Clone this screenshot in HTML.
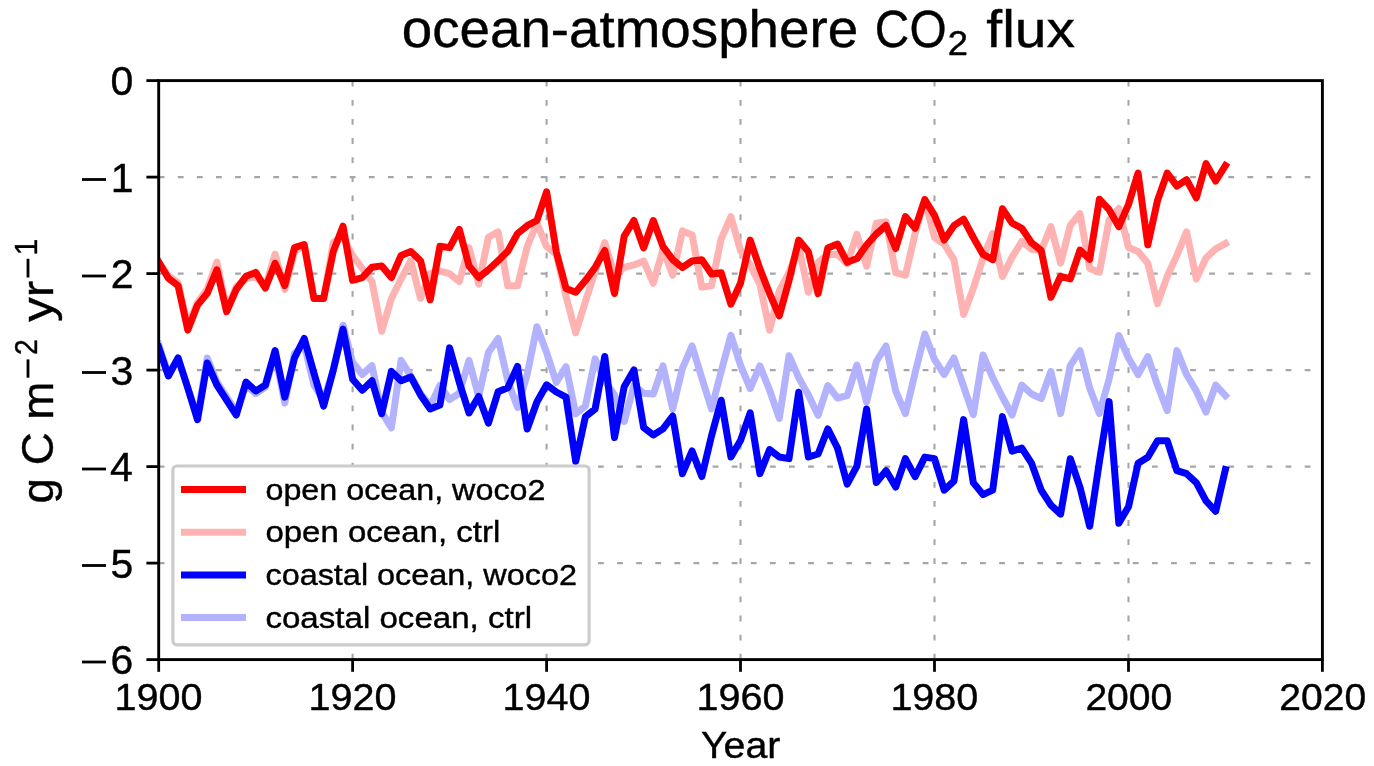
<!DOCTYPE html>
<html><head><meta charset="utf-8"><style>
html,body{margin:0;padding:0;background:#fff;}
svg{display:block;}
svg{will-change:transform;}
text{font-family:"Liberation Sans", sans-serif;fill:#000;stroke:#000;stroke-width:0.4px;}
</style></head><body>
<svg width="1374" height="766" viewBox="0 0 1374 766">
<rect x="0" y="0" width="1374" height="766" fill="#fff"/>
<g stroke="#a6a6a6" stroke-width="2.1" stroke-dasharray="5.8 13.3" fill="none"><line x1="158.7" y1="177.1" x2="1322.4" y2="177.1"/><line x1="158.7" y1="273.6" x2="1322.4" y2="273.6"/><line x1="158.7" y1="370.1" x2="1322.4" y2="370.1"/><line x1="158.7" y1="466.6" x2="1322.4" y2="466.6"/><line x1="158.7" y1="563.1" x2="1322.4" y2="563.1"/><line x1="352.6" y1="659.6" x2="352.6" y2="80.6"/><line x1="546.6" y1="659.6" x2="546.6" y2="80.6"/><line x1="740.5" y1="659.6" x2="740.5" y2="80.6"/><line x1="934.5" y1="659.6" x2="934.5" y2="80.6"/><line x1="1128.5" y1="659.6" x2="1128.5" y2="80.6"/></g>
<defs><clipPath id="ax"><rect x="158.7" y="80.6" width="1163.7" height="579.0"/></clipPath></defs>
<g fill="none" stroke-width="7" stroke-linejoin="round" stroke-linecap="square" clip-path="url(#ax)">
<polyline stroke="#ffb2b2" points="158.7,262.0 168.4,275.8 178.1,282.9 187.8,326.0 197.5,302.5 207.2,289.4 216.9,262.0 226.6,309.0 236.3,286.8 246.0,279.0 255.7,276.3 265.4,286.8 275.1,254.1 284.8,289.4 294.5,251.5 304.2,245.0 313.9,298.5 323.6,298.5 333.3,242.4 343.0,237.2 352.6,255.4 362.3,268.5 372.0,281.6 381.7,331.2 391.4,298.5 401.1,279.0 410.8,260.7 420.5,298.5 430.2,273.7 439.9,271.1 449.6,273.7 459.3,281.6 469.0,247.6 478.7,284.2 488.4,237.2 498.1,231.9 507.8,285.8 517.5,285.8 527.2,246.6 536.9,223.1 546.6,246.6 556.3,254.4 566.0,296.2 575.7,332.8 585.4,301.5 595.1,271.4 604.8,242.7 614.5,275.3 624.2,267.5 633.9,264.9 643.6,261.0 653.3,283.2 663.0,249.2 672.7,275.3 682.4,230.9 692.1,234.9 701.8,287.1 711.5,285.8 721.2,238.8 730.9,216.6 740.5,250.5 750.2,264.9 759.9,284.5 769.6,330.2 779.3,291.0 789.0,272.7 798.7,246.6 808.4,292.3 818.1,262.3 827.8,254.4 837.5,254.4 847.2,263.6 856.9,234.2 866.6,266.2 876.3,223.1 886.0,221.8 895.7,272.7 905.4,275.3 915.1,233.6 924.8,199.6 934.5,237.5 944.2,244.0 953.9,259.7 963.6,314.5 973.3,288.4 983.0,258.4 992.7,233.6 1002.4,276.6 1012.1,257.1 1021.8,241.4 1031.5,249.2 1041.2,250.5 1050.9,226.6 1060.6,263.2 1070.3,225.3 1080.0,213.6 1089.7,268.4 1099.4,272.3 1109.1,220.1 1118.8,208.4 1128.5,247.5 1138.1,251.5 1147.8,263.2 1157.5,303.7 1167.2,276.3 1176.9,255.4 1186.6,231.9 1196.3,278.9 1206.0,258.0 1215.7,248.8 1225.4,243.6"/>
<polyline stroke="#ff0000" points="158.7,262.0 168.4,278.3 178.1,285.7 187.8,330.1 197.5,305.1 207.2,293.3 216.9,269.8 226.6,311.6 236.3,289.4 246.0,276.3 255.7,272.4 265.4,288.1 275.1,263.3 284.8,285.5 294.5,247.6 304.2,244.5 313.9,298.5 323.6,298.5 333.3,251.5 343.0,226.2 352.6,280.3 362.3,277.6 372.0,267.2 381.7,265.9 391.4,277.6 401.1,255.4 410.8,251.5 420.5,260.7 430.2,299.8 439.9,246.3 449.6,247.6 459.3,229.3 469.0,265.9 478.7,277.6 488.4,269.8 498.1,260.7 507.8,251.2 517.5,233.6 527.2,225.7 536.9,220.5 546.6,191.8 556.3,251.8 566.0,288.4 575.7,292.3 585.4,280.6 595.1,267.5 604.8,250.5 614.5,293.6 624.2,236.2 633.9,220.5 643.6,247.9 653.3,220.5 663.0,246.6 672.7,259.7 682.4,267.5 692.1,261.0 701.8,259.7 711.5,274.0 721.2,272.7 730.9,304.1 740.5,283.2 750.2,240.1 759.9,268.8 769.6,293.6 779.3,315.8 789.0,280.6 798.7,240.1 808.4,251.8 818.1,293.6 827.8,247.9 837.5,244.0 847.2,262.3 856.9,258.6 866.6,245.0 876.3,234.0 886.0,225.5 895.7,248.5 905.4,216.6 915.1,228.3 924.8,199.6 934.5,215.3 944.2,240.1 953.9,225.7 963.6,219.2 973.3,237.5 983.0,254.4 992.7,259.7 1002.4,208.8 1012.1,223.1 1021.8,228.3 1031.5,242.7 1041.2,250.5 1050.9,297.2 1060.6,276.3 1070.3,278.9 1080.0,250.1 1089.7,259.3 1099.4,199.2 1109.1,209.7 1118.8,226.6 1128.5,204.4 1138.1,173.1 1147.8,244.9 1157.5,200.5 1167.2,173.1 1176.9,186.2 1186.6,179.6 1196.3,197.9 1206.0,163.6 1215.7,181.0 1225.4,165.5"/>
<polyline stroke="#b2b2ff" points="158.7,344.5 168.4,374.5 178.1,358.0 187.8,388.0 197.5,416.6 207.2,358.0 216.9,382.0 226.6,397.0 236.3,412.0 246.0,385.0 255.7,393.5 265.4,387.0 275.1,353.5 284.8,403.0 294.5,353.5 304.2,344.5 313.9,385.0 323.6,400.0 333.3,370.0 343.0,325.2 352.6,362.3 362.3,374.5 372.0,365.6 381.7,412.1 391.4,427.8 401.1,360.4 410.8,376.1 420.5,393.3 430.2,405.9 439.9,385.5 449.6,399.6 459.3,393.3 469.0,360.4 478.7,396.5 488.4,352.6 498.1,338.5 507.8,380.8 517.5,407.4 527.2,374.5 536.9,326.7 546.6,352.6 556.3,382.4 566.0,366.7 575.7,413.7 585.4,405.9 595.1,358.9 604.8,380.8 614.5,395.0 624.2,421.5 633.9,385.5 643.6,393.3 653.3,394.1 663.0,365.9 672.7,409.0 682.4,368.3 692.1,346.0 701.8,377.7 711.5,409.0 721.2,371.4 730.9,335.4 740.5,365.1 750.2,388.6 759.9,365.9 769.6,390.2 779.3,418.4 789.0,355.7 798.7,377.7 808.4,394.9 818.1,415.3 827.8,385.5 837.5,398.0 847.2,395.7 856.9,365.1 866.6,402.0 876.3,361.5 886.0,346.0 895.7,391.0 905.4,413.6 915.1,373.0 924.8,334.0 934.5,359.5 944.2,374.5 953.9,358.0 963.6,386.5 973.3,414.6 983.0,355.0 992.7,377.5 1002.4,397.0 1012.1,415.0 1021.8,385.0 1031.5,394.0 1041.2,398.5 1050.9,371.5 1060.6,413.6 1070.3,365.6 1080.0,350.6 1089.7,388.1 1099.4,413.6 1109.1,379.1 1118.8,335.5 1128.5,358.1 1138.1,374.6 1147.8,356.6 1157.5,385.1 1167.2,410.6 1176.9,350.6 1186.6,374.6 1196.3,391.1 1206.0,412.1 1215.7,385.1 1225.4,395.5"/>
<polyline stroke="#0000ff" points="158.7,347.5 168.4,376.0 178.1,358.0 187.8,388.0 197.5,419.6 207.2,363.0 216.9,385.0 226.6,400.1 236.3,415.1 246.0,382.0 255.7,391.0 265.4,385.0 275.1,350.5 284.8,397.1 294.5,358.0 304.2,338.5 313.9,373.0 323.6,406.1 333.3,370.0 343.0,329.1 352.6,379.2 362.3,390.2 372.0,380.8 381.7,413.7 391.4,371.4 401.1,380.8 410.8,376.9 420.5,394.9 430.2,409.0 439.9,405.1 449.6,347.9 459.3,382.4 469.0,412.9 478.7,396.5 488.4,423.1 498.1,391.8 507.8,387.8 517.5,366.4 527.2,429.0 536.9,402.0 546.6,384.8 556.3,392.0 566.0,397.1 575.7,461.6 585.4,416.7 595.1,409.0 604.8,356.5 614.5,437.6 624.2,386.7 633.9,369.9 643.6,427.4 653.3,435.0 663.0,428.9 672.7,416.0 682.4,473.6 692.1,451.0 701.8,476.6 711.5,436.0 721.2,400.2 730.9,457.0 740.5,440.6 750.2,412.9 759.9,473.6 769.6,449.6 779.3,457.0 789.0,458.6 798.7,392.2 808.4,457.0 818.1,454.0 827.8,428.9 837.5,448.0 847.2,484.1 856.9,466.1 866.6,409.0 876.3,482.6 886.0,470.6 895.7,487.1 905.4,458.6 915.1,476.6 924.8,457.1 934.5,458.6 944.2,490.1 953.9,481.1 963.6,419.6 973.3,482.6 983.0,494.6 992.7,490.1 1002.4,416.6 1012.1,451.1 1021.8,448.1 1031.5,463.1 1041.2,490.1 1050.9,505.1 1060.6,514.1 1070.3,458.7 1080.0,487.3 1089.7,526.3 1099.4,461.7 1109.1,401.6 1118.8,523.3 1128.5,506.8 1138.1,463.2 1147.8,457.2 1157.5,440.7 1167.2,440.7 1176.9,470.7 1186.6,473.7 1196.3,482.7 1206.0,500.8 1215.7,511.3 1225.4,469.5"/>
</g>
<rect x="158.7" y="80.6" width="1163.7" height="579.0" fill="none" stroke="#000" stroke-width="2.9"/>
<g stroke="#000" stroke-width="2.8"><line x1="146.4" y1="80.6" x2="158.7" y2="80.6"/><line x1="146.4" y1="177.1" x2="158.7" y2="177.1"/><line x1="146.4" y1="273.6" x2="158.7" y2="273.6"/><line x1="146.4" y1="370.1" x2="158.7" y2="370.1"/><line x1="146.4" y1="466.6" x2="158.7" y2="466.6"/><line x1="146.4" y1="563.1" x2="158.7" y2="563.1"/><line x1="146.4" y1="659.6" x2="158.7" y2="659.6"/><line x1="158.7" y1="659.6" x2="158.7" y2="671.8"/><line x1="352.6" y1="659.6" x2="352.6" y2="671.8"/><line x1="546.6" y1="659.6" x2="546.6" y2="671.8"/><line x1="740.5" y1="659.6" x2="740.5" y2="671.8"/><line x1="934.5" y1="659.6" x2="934.5" y2="671.8"/><line x1="1128.5" y1="659.6" x2="1128.5" y2="671.8"/><line x1="1322.4" y1="659.6" x2="1322.4" y2="671.8"/></g>
<text transform="translate(110.40,95.40) scale(1.0000,1)" font-size="41.0">0</text>
<text transform="translate(110.81,191.90) scale(1.0000,1)" font-size="41.0">1</text>
<rect x="82" y="178.10" width="24" height="2.8" fill="#000"/>
<text transform="translate(110.85,288.40) scale(1.0000,1)" font-size="41.0">2</text>
<rect x="82" y="274.60" width="24" height="2.8" fill="#000"/>
<text transform="translate(110.61,384.90) scale(1.0000,1)" font-size="41.0">3</text>
<rect x="82" y="371.10" width="24" height="2.8" fill="#000"/>
<text transform="translate(109.99,481.40) scale(1.0000,1)" font-size="41.0">4</text>
<rect x="82" y="467.60" width="24" height="2.8" fill="#000"/>
<text transform="translate(110.53,577.90) scale(1.0000,1)" font-size="41.0">5</text>
<rect x="82" y="564.10" width="24" height="2.8" fill="#000"/>
<text transform="translate(110.61,674.40) scale(1.0000,1)" font-size="41.0">6</text>
<rect x="82" y="660.60" width="24" height="2.8" fill="#000"/>
<text transform="translate(114.59,710.40) scale(1.0630,1)" font-size="37.2">1900</text>
<text transform="translate(308.54,710.40) scale(1.0630,1)" font-size="37.2">1920</text>
<text transform="translate(502.49,710.40) scale(1.0630,1)" font-size="37.2">1940</text>
<text transform="translate(696.44,710.40) scale(1.0630,1)" font-size="37.2">1960</text>
<text transform="translate(890.39,710.40) scale(1.0630,1)" font-size="37.2">1980</text>
<text transform="translate(1085.40,710.40) scale(1.0501,1)" font-size="37.2">2000</text>
<text transform="translate(1279.35,710.40) scale(1.0501,1)" font-size="37.2">2020</text>
<text transform="translate(700.93,758.00) scale(1.0488,1)" font-size="37.5">Year</text>
<text transform="translate(401.70,47.20) scale(1.0431,1)" font-size="52.5">ocean-atmosphere</text>
<text transform="translate(874.86,47.20) scale(0.9109,1)" font-size="52.5">CO</text>
<text transform="translate(947.78,54.90) scale(1.0401,1)" font-size="35">2</text>
<text transform="translate(986.30,47.20) scale(1.0874,1)" font-size="52.5">flux</text>
<g transform="translate(53,0) rotate(-90)">
<text transform="translate(-503.52,0.00) scale(1.0520,1)" font-size="43.5">g C m</text>
<rect x="-377.7" y="-26.40" width="18.3" height="2.8" fill="#000"/>
<text transform="translate(-354.93,-15.60) scale(0.9050,1)" font-size="31.5">2</text>
<text transform="translate(-321.65,0.00) scale(1.1226,1)" font-size="43.5">yr</text>
<rect x="-277.5" y="-26.40" width="18.7" height="2.8" fill="#000"/>
<text transform="translate(-255.39,-15.70) scale(0.9575,1)" font-size="31.5">1</text>
</g>
<rect x="172.9" y="466" width="416.2" height="178.8" rx="4" ry="4" fill="#fff" stroke="#cccccc" stroke-width="3.2"/>
<line x1="181" y1="489.6" x2="246" y2="489.6" stroke="#ff0000" stroke-width="7"/>
<text transform="translate(265.44,499.70) scale(1.0764,1)" font-size="30">open ocean, woco2</text>
<line x1="181" y1="532.2" x2="246" y2="532.2" stroke="#ffb2b2" stroke-width="7"/>
<text transform="translate(265.41,542.30) scale(1.1003,1)" font-size="30">open ocean, ctrl</text>
<line x1="181" y1="574.9" x2="246" y2="574.9" stroke="#0000ff" stroke-width="7"/>
<text transform="translate(265.44,585.00) scale(1.0800,1)" font-size="30">coastal ocean, woco2</text>
<line x1="181" y1="617.5" x2="246" y2="617.5" stroke="#b2b2ff" stroke-width="7"/>
<text transform="translate(265.41,627.50) scale(1.1031,1)" font-size="30">coastal ocean, ctrl</text>
</svg></body></html>
